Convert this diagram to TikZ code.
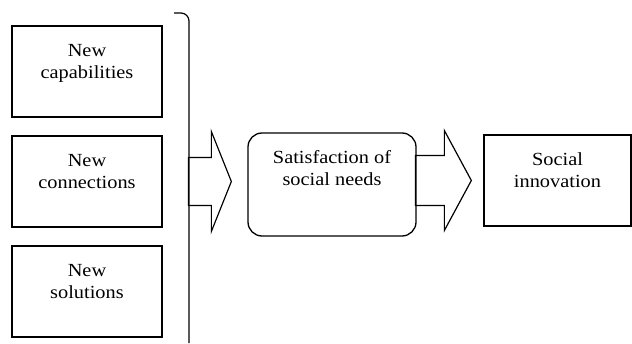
\documentclass[tikz,border=0pt]{standalone}
\usepackage{fontspec}
\setmainfont{Liberation Serif}[FakeStretch=1.1]
\usetikzlibrary{calc}
\newcommand{\boxtext}[3]{\parbox[c][#2][t]{#1}{\centering\rule{0pt}{30pt}#3}}

\begin{document}
\begin{tikzpicture}[x=1pt, y=-1pt,
    box/.style={draw, line width=1.3pt, inner sep=0pt, font=\fontsize{18.5}{22.5}\selectfont},
    bigarrow/.style={draw, line width=1.2pt, line join=miter}
]
    \useasboundingbox (0,0) rectangle (632,343);

    \node[box] (cap) at (87,71.5) {\boxtext{150pt}{91pt}{New\\capabilities}};
    \node[box] (con) at (87,181.5) {\boxtext{150pt}{91pt}{New\\connections}};
    \node[box] (sol) at (87,291.5) {\boxtext{150pt}{91pt}{New\\solutions}};
    \node[box, rounded corners=14pt] (needs) at (332,184.5) {\boxtext{168pt}{103pt}{Satisfaction of\\social needs}};
    \node[box] (inno) at (557.5,180.5) {\boxtext{147pt}{91pt}{Social\\innovation}};

    % bracket
    \coordinate (top) at (174,13);
    \coordinate (bot) at (189,343);
    \draw[line width=1.2pt] (top) -- ++(7,0) to[out=0,in=90] (bot |- 0,21) -- (bot);

    % block arrows
    \coordinate (tip1) at ($(needs.west)+(-16,-3)$);
    \coordinate (tip2) at ($(inno.west)+(-12,0)$);
    \draw[bigarrow] (tip1) -- ++(-20,-50) -- ++(0,26) -- ++(-23,0) -- ++(0,48)
        -- ++(23,0) -- ++(0,26) -- cycle;
    \draw[bigarrow] (tip2) -- ++(-27,-50) -- ++(0,25) -- ++(-29,0) -- ++(0,50)
        -- ++(29,0) -- ++(0,25) -- cycle;
\end{tikzpicture}
\end{document}
